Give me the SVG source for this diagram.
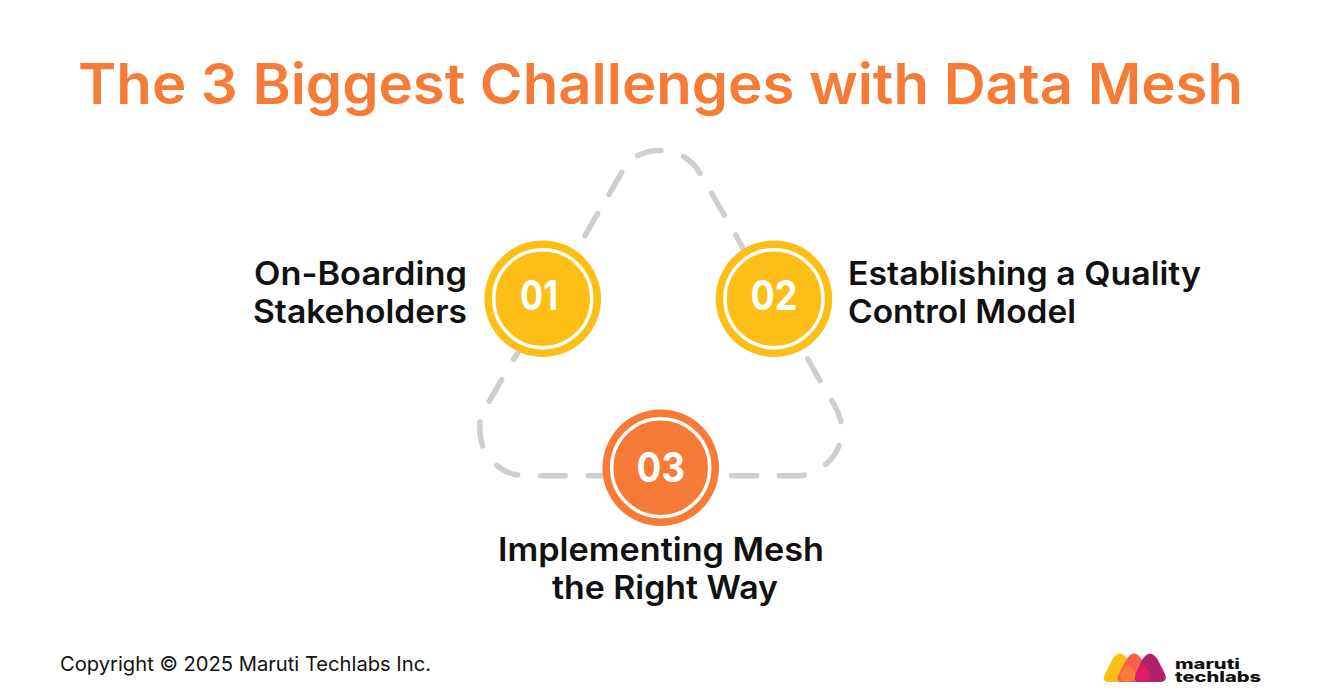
<svg xmlns="http://www.w3.org/2000/svg" width="1321" height="699" viewBox="0 0 1321 699">
<style>
text{font-family:"Inter","Noto Sans","Liberation Sans",sans-serif}
.title{font-size:56px;font-weight:600;fill:#f57b37}
.lab{font-size:32.500px;font-weight:600;fill:#111}
.num{font-size:41px;font-weight:700;fill:#fff}
.foot{font-size:20px;font-weight:400;fill:#111}
.brand{font-size:14px;font-weight:800;fill:#111}
.dash{fill:none;stroke:#cfcfcf;stroke-width:5.500;stroke-linecap:round}
.ring{fill:none;stroke:#fff;stroke-width:3.500}
</style>
<rect width="1321" height="699" fill="#fff"/>
<text class="title" x="78" y="104" textLength="1165" lengthAdjust="spacingAndGlyphs">The 3 Biggest Challenges with Data Mesh</text>
<g id="connectors">
<path class="dash" d="M585 235.700L597.700 213.300M609 194.300L621.700 172.300M637.700 155.700Q648 150 661 150.500M683.700 156.700Q694 163 700 173.300M711.700 193.300L724.300 215.300M735.700 235L745 252M513.700 359.300L520 349M501.700 379.300L489.300 401.300M480 421.700Q479 435 482.700 446M496.700 465.300Q505 473 517.700 475M540.700 475.700H565.300M588.300 475.700H610M731.700 475.700H756.700M779.300 475.700H798Q802 475.700 804.300 475M825.700 464.300Q835 457 839 445.700M841 421.700Q838 410 831.700 400.700M820 380.700L807.700 359"/>
</g>
<g id="node-01">
<circle cx="542.700" cy="298.700" r="58.300" fill="#fdbe16"/>
<circle class="ring" cx="542.700" cy="298.700" r="49"/>
<text class="num" x="520" y="310" textLength="38" lengthAdjust="spacingAndGlyphs">01</text>
<text class="lab" x="254" y="284.500" textLength="213" lengthAdjust="spacingAndGlyphs">On-Boarding</text>
<text class="lab" x="253" y="322.500" textLength="214" lengthAdjust="spacingAndGlyphs">Stakeholders</text>
</g>
<g id="node-02">
<circle cx="774" cy="298.700" r="58.300" fill="#fdbe16"/>
<circle class="ring" cx="774" cy="298.700" r="49"/>
<text class="num" x="750.500" y="310" textLength="47" lengthAdjust="spacingAndGlyphs">02</text>
<text class="lab" x="848" y="284.500" textLength="353" lengthAdjust="spacingAndGlyphs">Establishing a Quality</text>
<text class="lab" x="848" y="322.500" textLength="228" lengthAdjust="spacingAndGlyphs">Control Model</text>
</g>
<g id="node-03">
<circle cx="660.700" cy="467.700" r="58.300" fill="#f57b37"/>
<circle class="ring" cx="660.700" cy="467.700" r="49"/>
<text class="num" x="636.500" y="481.500" textLength="48.500" lengthAdjust="spacingAndGlyphs">03</text>
<text class="lab" x="498" y="560.500" textLength="326" lengthAdjust="spacingAndGlyphs">Implementing Mesh</text>
<text class="lab" x="552" y="598.500" textLength="226" lengthAdjust="spacingAndGlyphs">the Right Way</text>
</g>
<text class="foot" x="60" y="671" textLength="371" lengthAdjust="spacingAndGlyphs">Copyright © 2025 Maruti Techlabs Inc.</text>
<g id="logo">
<path d="M1112 660Q1120 647 1128 660L1136 674Q1140 682 1132 682H1109Q1101 682 1105 674Z" fill="#fdbe16"/>
<path d="M1126 660Q1134 647 1142 660L1150 674Q1154 682 1146 682H1123Q1115 682 1119 674Z" fill="#f4604a"/>
<path d="M1142 660Q1150 647 1158 660L1165 674Q1168 682 1160 682H1140Q1132 682 1136 674Z" fill="#b3206a"/>
<path d="M1128 664Q1139 674 1135 678Q1132 682 1127 682Q1121 682 1120 677Q1120 671 1128 664Z" fill="#f67c38"/>
<path d="M1143 664Q1152 673 1150 677Q1148 682 1143 682Q1137 682 1135 677Q1135 671 1143 664Z" fill="#dd1c65"/>
<text class="brand" x="1175" y="668.500" textLength="65" lengthAdjust="spacingAndGlyphs">maruti</text>
<text class="brand" x="1175" y="682" textLength="86" lengthAdjust="spacingAndGlyphs">techlabs</text>
</g>
</svg>
